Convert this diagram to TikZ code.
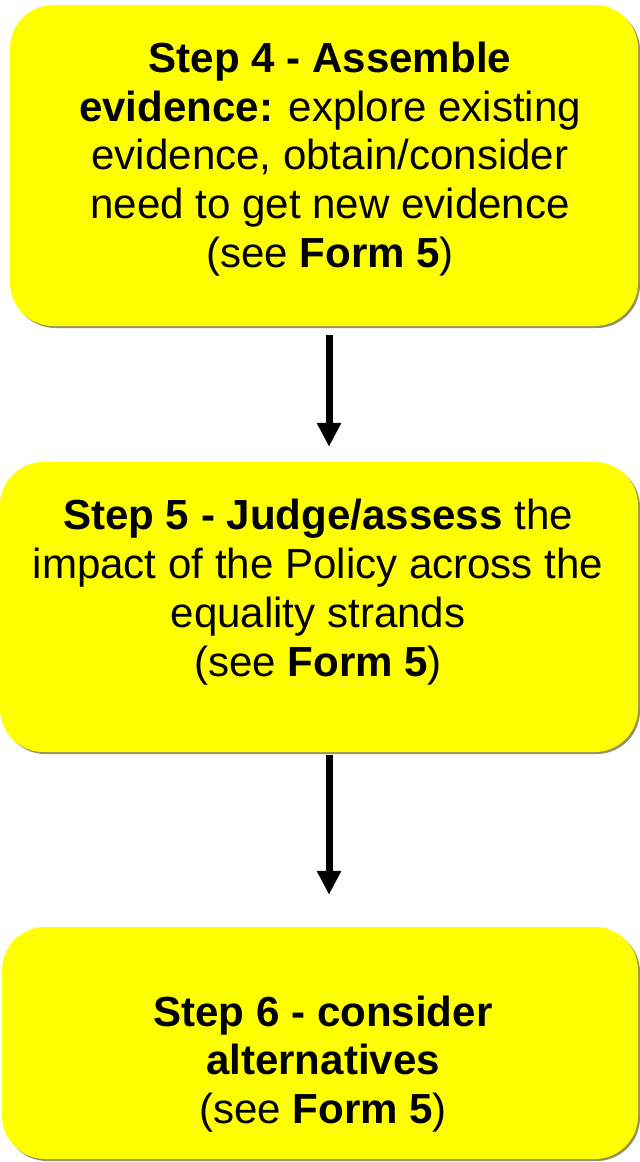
\documentclass[tikz,border=0pt]{standalone}
\usepackage{fontspec}
\setmainfont{Liberation Sans}
\usetikzlibrary{arrows.meta, shadows, calc}
\definecolor{step-yellow}{rgb}{1,1,0}
\definecolor{step-shadow}{RGB}{150,146,100}
\tikzstyle{stepbox} = [rectangle, rounded corners=1.3cm, fill=step-yellow, drop shadow={shadow xshift=0.06cm, shadow yshift=-0.06cm, fill=step-shadow, opacity=1}]
\tikzstyle{steptext} = [align=center, inner sep=0pt, font=\fontsize{35.9}{41.6}\selectfont]
\tikzstyle{flowarrow} = [line width=0.21cm, -{Triangle[width=0.69cm, length=0.72cm]}]

\begin{document}
\begin{tikzpicture}[x=0.03cm, y=-0.03cm]
    \useasboundingbox (0, 0) rectangle (640, 1162);

    \node[stepbox, minimum width=18.84cm, minimum height=9.63cm] at (324, 165.5) (step4) {};
    \node[stepbox, minimum width=19.14cm, minimum height=8.7cm] at (319, 607) (step5) {};
    \node[stepbox, minimum width=19.08cm, minimum height=6.96cm] at (320, 1043) (step6) {};

    \node[steptext] at (330, 159) (step4text) {\textbf{Step 4 - Assemble}\\ \textbf{evidence:} explore existing\\ evidence, obtain/consider\\ need to get new evidence\\ (see \textbf{Form 5})};
    \node[steptext] at (318, 592) (step5text) {\textbf{Step 5 - Judge/assess} the\\ impact of the Policy across the\\ equality strands\\ (see \textbf{Form 5})};
    \node[steptext] at (323, 1064) (step6text) {\textbf{Step 6 - consider}\\ \textbf{alternatives}\\ (see \textbf{Form 5})};

    \coordinate (axis) at (329, 0);
    \draw[flowarrow, shorten <=0.27cm, shorten >=0.45cm] (step4.south -| axis) -- (step5.north -| axis);
    \draw[flowarrow, shorten <=0.09cm, shorten >=0.96cm] (step5.south -| axis) -- (step6.north -| axis);
\end{tikzpicture}
\end{document}
